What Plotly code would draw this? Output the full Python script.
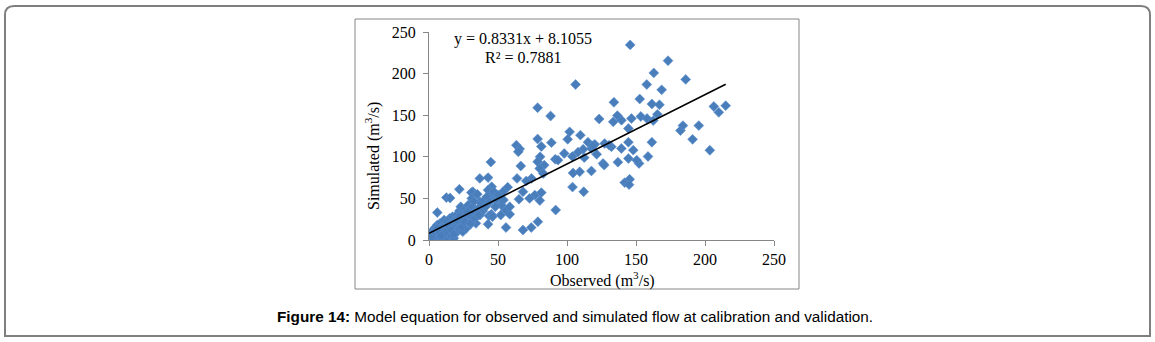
import plotly.graph_objects as go

# ---------------- data ----------------
observed = [
    145.8, 173.2, 162.9, 186.0, 106.2, 157.8, 168.6, 78.7, 88.1, 134.0,
    152.7, 161.5, 167.0, 123.3, 133.5, 136.5, 139.5, 146.7, 153.5, 158.0,
    162.5, 165.5, 206.4, 210.0, 215.0, 182.2, 184.0, 195.5, 191.0, 203.5,
    144.5, 161.5, 158.7, 152.2, 144.5, 144.5, 139.4, 136.9, 132.2, 127.3,
    126.1, 117.7, 115.2, 109.7, 111.7, 112.5, 108.0, 120.1, 101.9, 100.5,
    103.9, 104.4, 109.2, 117.7, 104.0, 112.1, 141.8, 145.4, 145.0, 78.7,
    81.4, 80.5, 78.7, 83.5, 91.5, 93.5, 88.7, 63.3, 65.7, 64.7,
    66.5, 44.8, 80.2, 82.8, 74.3, 70.5, 63.8, 76.7, 81.4, 80.3,
    68.1, 72.9, 65.2, 57.0, 52.6, 53.6, 55.5, 58.5, 58.5, 55.8,
    68.1, 74.1, 78.9, 91.8, 36.8, 42.8, 45.4, 42.8, 46.4, 45.4,
    43.5, 45.2, 42.8, 48.8, 52.4, 22.0, 31.8, 30.7, 12.6, 15.3,
    6.0, 36.7, 29.5, 119.0, 127.0, 121.5, 130.5, 98.0, 148.0, 150.5,
    # dense cluster near the origin
    0.0, 1.0, 1.5, 2.0, 2.5, 3.0, 3.5, 4.0, 4.5, 5.0,
    5.5, 6.0, 6.5, 7.0, 7.5, 8.0, 8.5, 9.0, 9.5, 10.0,
    10.5, 11.0, 11.5, 12.0, 12.5, 13.0, 13.5, 14.0, 14.5, 15.0,
    15.5, 16.0, 16.5, 17.0, 17.5, 18.0, 18.5, 19.0, 19.5, 20.0,
    20.5, 21.0, 21.5, 22.0, 22.5, 23.0, 23.5, 24.0, 24.5, 25.0,
    25.5, 26.0, 26.5, 27.0, 27.5, 28.0, 28.5, 29.0, 29.5, 30.0,
    30.5, 31.0, 31.5, 32.0, 32.5, 33.0, 34.0, 35.0, 36.0, 37.0,
    38.0, 39.0, 40.0, 41.0, 42.0, 44.0, 46.0, 47.0, 48.0, 50.0,
    52.0, 54.0, 2.0, 4.0, 6.0, 8.0, 10.0, 12.0, 14.0, 16.0,
    18.0, 20.0, 22.0, 24.0, 26.0, 28.0, 30.0, 33.0, 36.0, 9.0,
]
simulated = [
    234.5, 215.5, 200.8, 193.0, 186.9, 186.9, 180.5, 159.0, 149.0, 165.5,
    169.5, 163.5, 162.5, 145.5, 142.0, 149.5, 144.0, 146.0, 148.5, 146.0,
    143.5, 151.0, 160.5, 153.4, 161.5, 131.5, 137.5, 137.5, 121.0, 107.8,
    134.0, 117.5, 100.4, 92.0, 98.0, 117.5, 110.0, 93.5, 112.0, 116.0,
    92.0, 110.0, 117.5, 126.0, 109.0, 99.0, 105.6, 115.0, 130.0, 121.0,
    100.4, 80.5, 82.0, 83.0, 63.6, 58.0, 69.0, 73.0, 66.5, 121.4,
    112.4, 100.0, 94.0, 90.0, 97.0, 96.0, 117.0, 114.0, 109.5, 106.0,
    89.0, 93.6, 86.0, 80.0, 74.0, 71.0, 74.0, 54.0, 57.0, 47.5,
    58.0, 50.0, 49.0, 63.5, 50.0, 58.0, 36.0, 31.0, 40.0, 15.0,
    12.0, 15.0, 22.0, 36.0, 74.0, 75.0, 64.0, 60.0, 55.0, 50.0,
    29.0, 31.0, 19.0, 48.0, 42.0, 61.0, 58.0, 57.0, 51.0, 50.5,
    33.0, 46.0, 42.0, 113.5, 90.0, 103.0, 114.0, 104.0, 108.0, 96.0,
    # dense cluster near the origin
    2.0, 5.0, 0.0, 8.0, 3.0, 12.0, 1.0, 6.0, 15.0, 10.0,
    3.0, 18.0, 8.0, 4.0, 12.0, 20.0, 14.0, 2.0, 9.0, 0.0,
    16.0, 24.0, 6.0, 12.0, 18.0, 3.0, 22.0, 8.0, 14.0, 26.0,
    10.0, 5.0, 20.0, 28.0, 13.0, 2.0, 24.0, 17.0, 8.0, 30.0,
    20.0, 12.0, 26.0, 35.0, 15.0, 40.0, 28.0, 22.0, 10.0, 33.0,
    25.0, 18.0, 38.0, 14.0, 30.0, 22.0, 42.0, 26.0, 35.0, 19.0,
    28.0, 50.0, 40.0, 24.0, 46.0, 33.0, 20.0, 55.0, 38.0, 30.0,
    44.0, 35.0, 48.0, 40.0, 52.0, 46.0, 28.0, 58.0, 40.0, 54.0,
    30.0, 48.0, 4.0, 10.0, 14.0, 9.0, 6.0, 9.0, 18.0, 12.0,
    7.0, 24.0, 28.0, 16.0, 22.0, 34.0, 20.0, 26.0, 30.0, 5.0,
]

slope = 0.8331
intercept = 8.1055
equation_text = "y = 0.8331x + 8.1055"
r2_text = "R² = 0.7881"

x_ticks = [0, 50, 100, 150, 200, 250]
y_ticks = [0, 50, 100, 150, 200, 250]

caption = "<b>Figure 14:</b> Model equation for observed and simulated flow at calibration and validation."

# ---------------- layout geometry ----------------
W, H = 1155, 342
L, R, T, B = 429, 774, 32, 240   # plot area in pixels


def px(x):
    return (x - L) / (R - L)


def py(y):
    return (B - y) / (B - T)


serif = "Liberation Serif, Times New Roman, serif"
sans = "Liberation Sans, Arial, sans-serif"

fig = go.Figure()

fig.add_trace(go.Scatter(
    x=observed, y=simulated, mode="markers",
    marker=dict(symbol="diamond", size=7.6, color="#4A7EBB",
                line=dict(width=0.6, color="#5B8FD0")),
    showlegend=False, hoverinfo="x+y",
))

x_line = [min(observed), max(observed)]
y_line = [slope * v + intercept for v in x_line]
fig.add_trace(go.Scatter(
    x=x_line, y=y_line, mode="lines",
    line=dict(color="black", width=1.5),
    showlegend=False, hoverinfo="skip",
))

axis_common = dict(
    showgrid=False, zeroline=False, showline=True, linecolor="#868686",
    linewidth=1, ticks="outside", ticklen=5, tickcolor="#868686",
    tickfont=dict(family=serif, size=16, color="black"),
)
fig.update_xaxes(range=[0, 250], tickvals=x_ticks, **axis_common)
fig.update_yaxes(range=[0, 250], tickvals=y_ticks, ticklabelstandoff=4, **axis_common)

# outer rounded frame
x0, x1, y0, y1, r = 5, 1150, 6, 336, 9
path = (
    f"M {px(x0)} {py(y0 + r)} "
    f"Q {px(x0)} {py(y0)} {px(x0 + r)} {py(y0)} "
    f"L {px(x1 - r)} {py(y0)} "
    f"Q {px(x1)} {py(y0)} {px(x1)} {py(y0 + r)} "
    f"L {px(x1)} {py(y1)} "
    f"L {px(x0)} {py(y1)} Z"
)
shapes = [
    dict(type="path", path=path, xref="paper", yref="paper",
         line=dict(color="#7F7F7F", width=2), layer="below"),
    dict(type="rect", xref="paper", yref="paper",
         x0=px(355), x1=px(799), y0=py(289), y1=py(19),
         line=dict(color="#868686", width=1), layer="below"),
]

annotations = [
    dict(text=equation_text, x=px(523), y=py(39), xref="paper", yref="paper",
         showarrow=False, xanchor="center", yanchor="middle",
         font=dict(family=serif, size=16, color="black")),
    dict(text=r2_text, x=px(523), y=py(57.5), xref="paper", yref="paper",
         showarrow=False, xanchor="center", yanchor="middle",
         font=dict(family=serif, size=16, color="black")),
    dict(text="Observed (m<sup>3</sup>/s)", x=px(602), y=py(279), xref="paper",
         yref="paper", showarrow=False, xanchor="center", yanchor="middle",
         font=dict(family=serif, size=16, color="black")),
    dict(text="Simulated (m<sup>3</sup>/s)", x=px(372), y=py(156), xref="paper",
         yref="paper", showarrow=False, xanchor="center", yanchor="middle",
         textangle=-90, font=dict(family=serif, size=16, color="black")),
    dict(text=caption, x=px(575), y=py(316), xref="paper", yref="paper",
         showarrow=False, xanchor="center", yanchor="middle",
         font=dict(family=sans, size=15.3, color="black")),
]

fig.update_layout(
    width=W, height=H, autosize=False,
    margin=dict(l=L, r=W - R, t=T, b=H - B, pad=0),
    paper_bgcolor="white", plot_bgcolor="white",
    shapes=shapes, annotations=annotations,
)

fig.write_html(
    "out.html", include_plotlyjs=True,
    config={"displayModeBar": False},
    post_script="document.body.style.margin='0';document.body.style.overflow='hidden';",
)
